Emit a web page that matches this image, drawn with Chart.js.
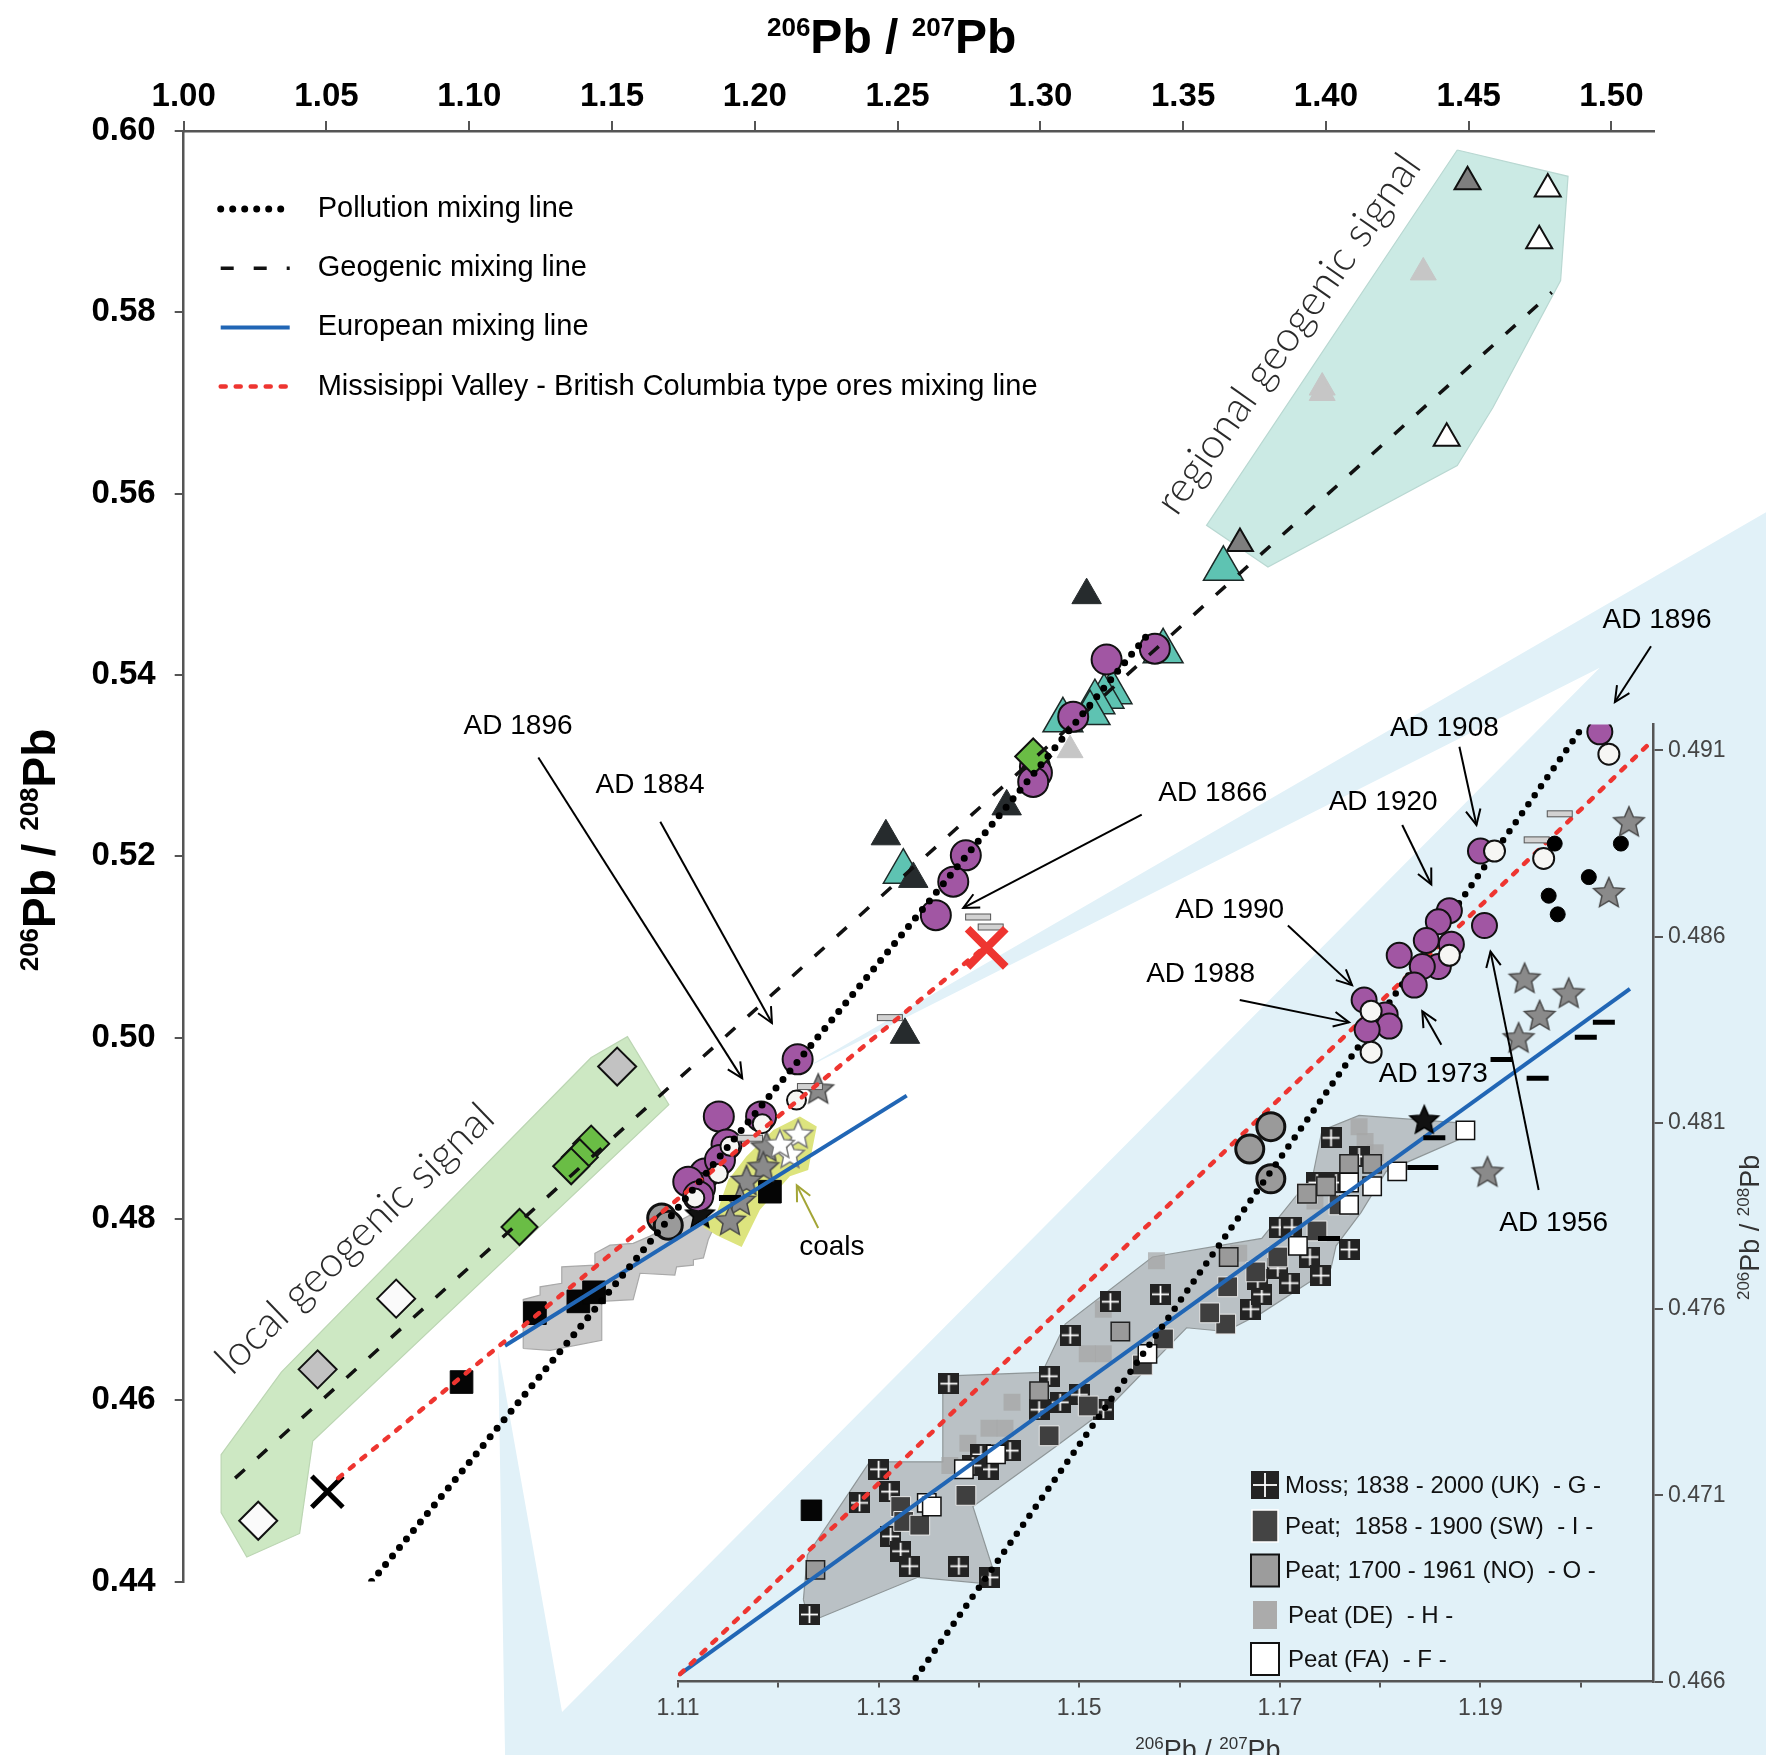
<!DOCTYPE html>
<html>
<head>
<meta charset="utf-8">
<title>206Pb/207Pb vs 206Pb/208Pb</title>
<script src="https://cdn.jsdelivr.net/npm/chart.js@4.4.1/dist/chart.umd.min.js"></script>
<style>
  html, body { margin: 0; padding: 0; background: #fff; }
  #wrap { position: relative; width: 1766px; height: 1755px; overflow: hidden; }
  #wrap canvas { position: absolute; left: 0; top: 0; }
</style>
</head>
<body>
<div id="wrap">
  <canvas id="bgChart" width="1766" height="1755"></canvas>
  <canvas id="mainChart" width="1766" height="1755"></canvas>
  <canvas id="insetChart" width="1766" height="1755"></canvas>
</div>
<script>
// ---------- axes ----------
const mainXTicks = [1.00, 1.05, 1.10, 1.15, 1.20, 1.25, 1.30, 1.35, 1.40, 1.45, 1.50];
const mainYTicks = [0.44, 0.46, 0.48, 0.50, 0.52, 0.54, 0.56, 0.58, 0.60];
const insetXTicks = [1.11, 1.12, 1.13, 1.14, 1.15, 1.16, 1.17, 1.18, 1.19, 1.20];
const insetXLabels = ['1.11', '', '1.13', '', '1.15', '', '1.17', '', '1.19', ''];
const insetYTicks = [0.466, 0.471, 0.476, 0.481, 0.486, 0.491];

const xTitle = [['206', true], ['Pb / ', false], ['207', true], ['Pb', false]];
const yTitle = [['206', true], ['Pb / ', false], ['208', true], ['Pb', false]];

// ---------- mixing lines ----------
const pollutionLine = [[1.0658, 0.4400], [1.3390, 0.5450]];
const geogenicLine = [[1.0180, 0.4514], [1.4791, 0.5822]];
const europeanLine = [[1.1125, 0.4660], [1.2532, 0.4936]];
const mvbcLine = [[1.0541, 0.4514], [1.2809, 0.5101]];
const insetPollutionLine = [[1.1337, 0.4661], [1.2001, 0.4916]];
const insetEuropeanLine = [[1.1102, 0.4662], [1.2049, 0.4846]];
const insetMvbcLine = [[1.1102, 0.4662], [1.2069, 0.4912]];
const lineLegend = ['Pollution mixing line', 'Geogenic mixing line', 'European mixing line',
  'Missisippi Valley - British Columbia type ores mixing line'];

// ---------- shaded areas ----------
const localGeogenicArea = [[1.1427, 0.4978], [1.1554, 0.5001], [1.1699, 0.4926], [1.0452, 0.4555], [1.0406, 0.4453],
  [1.0221, 0.4427], [1.0131, 0.4476], [1.0131, 0.4540], [1.0342, 0.4631]];
const regionalGeogenicArea = [[1.4460, 0.5979], [1.4848, 0.5950], [1.4822, 0.5835], [1.4585, 0.5695], [1.4460, 0.5631],
  [1.3797, 0.5519], [1.3582, 0.5565]];
const mainMossArea = [[1.1189, 0.4657], [1.1189, 0.4711], [1.1248, 0.4716], [1.1248, 0.4725], [1.1324, 0.4729],
  [1.1324, 0.4747], [1.1440, 0.4749], [1.1440, 0.4762], [1.1493, 0.4771], [1.1574, 0.4773], [1.1633, 0.4781],
  [1.1773, 0.4804], [1.1860, 0.4793], [1.1837, 0.4777], [1.1820, 0.4757], [1.1785, 0.4755], [1.1785, 0.4749],
  [1.1726, 0.4747], [1.1720, 0.4738], [1.1598, 0.4740], [1.1574, 0.4711], [1.1464, 0.4709], [1.1464, 0.4666],
  [1.1283, 0.4655]];
const coalsArea = [[1.2158, 0.4913], [1.2217, 0.4902], [1.2187, 0.4854], [1.2123, 0.4847], [1.2018, 0.4810],
  [1.1954, 0.4769], [1.1866, 0.4782], [1.1819, 0.4791], [1.1866, 0.4806], [1.1907, 0.4843], [1.1971, 0.4869],
  [1.2065, 0.4898]];
const insetMossArea = [[1.1225, 0.4682], [1.1231, 0.4676], [1.1339, 0.4688], [1.1419, 0.4686], [1.1394, 0.4707],
  [1.1476, 0.4723], [1.1531, 0.4734], [1.1607, 0.4755], [1.1646, 0.4754], [1.1682, 0.4759], [1.1751, 0.4771],
  [1.1756, 0.4777], [1.1781, 0.4786], [1.1806, 0.4797], [1.1891, 0.4807], [1.1879, 0.4810], [1.1779, 0.4812],
  [1.1742, 0.4808], [1.1733, 0.4796], [1.1682, 0.4779], [1.1573, 0.4774], [1.1486, 0.4756], [1.1463, 0.4743],
  [1.1364, 0.4742], [1.1364, 0.4719], [1.1291, 0.4719], [1.1229, 0.4694]];
// light blue zoom call-out, in main-plot units
const calloutArea = [[1.2158, 0.4963], [1.5560, 0.5583], [1.5560, 0.4180], [1.1127, 0.4180], [1.1101, 0.4655],
  [1.1325, 0.4256], [1.4959, 0.5408]];

// ---------- main plot samples ----------
const purpleMain = [[1.2150, 0.4976], [1.1874, 0.4913], [1.2022, 0.4913], [1.1901, 0.4882], [1.1825, 0.4850],
  [1.1808, 0.4834], [1.1767, 0.4841], [1.1878, 0.4865], [1.1802, 0.4825], [1.3401, 0.5429], [1.3232, 0.5417],
  [1.3115, 0.5354], [1.2981, 0.5299], [1.2988, 0.5292], [1.2975, 0.5282], [1.2739, 0.5201], [1.2695, 0.5172],
  [1.2634, 0.5135]];
const whiteCircleMain = [[1.2146, 0.4931], [1.2026, 0.4905], [1.1913, 0.4880], [1.1872, 0.4850], [1.1790, 0.4823]];
const greyCircleMain = [[1.1674, 0.4801], [1.1697, 0.4793]];
const tealTriMain = [[1.3641, 0.5517], [1.3430, 0.5426], [1.3251, 0.5381], [1.3223, 0.5376], [1.3191, 0.5370],
  [1.3174, 0.5358], [1.3079, 0.5350], [1.2520, 0.5183]];
const darkTriMain = [[1.3162, 0.5488], [1.2882, 0.5255], [1.2459, 0.5222], [1.2555, 0.5175], [1.2526, 0.5003]];
const greyTriMain = [[1.4496, 0.5944], [1.3699, 0.5545]];
const paleTriMain = [[1.4341, 0.5844], [1.3987, 0.5717], [1.3987, 0.5711], [1.3104, 0.5317]];
const whiteTriMain = [[1.4777, 0.5936], [1.4747, 0.5879], [1.4423, 0.5661]];
const greenDiamond = [[1.2975, 0.5310], [1.1427, 0.4883], [1.1387, 0.4868], [1.1357, 0.4858], [1.1176, 0.4791]];
const greyDiamond = [[1.1518, 0.4968], [1.0469, 0.4634]];
const whiteDiamond = [[1.0744, 0.4712], [1.0261, 0.4467]];
const blackSquareMain = [[1.0973, 0.4620], [1.1230, 0.4696], [1.1382, 0.4709], [1.1437, 0.4719], [1.2053, 0.4830]];
const greyStarMain = [[1.2222, 0.4944], [1.2041, 0.4880], [1.2030, 0.4858], [1.1971, 0.4843], [1.1948, 0.4821],
  [1.1913, 0.4799]];
const whiteStarMain = [[1.2152, 0.4894], [1.2123, 0.4872], [1.2088, 0.4883]];
const blackStarMain = [[1.1808, 0.4806]];
const greyBarMain = [[1.2782, 0.5133], [1.2826, 0.5122], [1.2473, 0.5022], [1.2193, 0.4946], [1.1983, 0.4889]];
const blackBarMain = [[1.1913, 0.4823]];
const blackCross = [[1.0503, 0.4499]];
const redCross = [[1.2812, 0.5099]];

// ---------- inset samples ----------
const purpleInset = [[1.2019, 0.4915], [1.1900, 0.4883], [1.1869, 0.4867], [1.1858, 0.4864], [1.1846, 0.4859],
  [1.1871, 0.4858], [1.1819, 0.4855], [1.1858, 0.4852], [1.1842, 0.4852], [1.1834, 0.4847], [1.1904, 0.4863],
  [1.1784, 0.4843], [1.1805, 0.4839], [1.1809, 0.4836], [1.1787, 0.4835]];
const whiteCircleInset = [[1.2028, 0.4909], [1.1914, 0.4883], [1.1963, 0.4881], [1.1869, 0.4855], [1.1791, 0.4840],
  [1.1791, 0.4829]];
const blackDotInset = [[1.1974, 0.4885], [1.2040, 0.4885], [1.2008, 0.4876], [1.1968, 0.4871], [1.1977, 0.4866]];
const greyCircleInset = [[1.1691, 0.4809], [1.1670, 0.4803], [1.1691, 0.4795]];
const greyStarInset = [[1.2048, 0.4891], [1.2028, 0.4872], [1.1944, 0.4849], [1.1988, 0.4845], [1.1959, 0.4839],
  [1.1938, 0.4833], [1.1907, 0.4797]];
const blackStarInset = [[1.1844, 0.4811]];
const greyBarInset = [[1.1979, 0.4893], [1.1956, 0.4886]];
const blackBarInset = [[1.2023, 0.4837], [1.2005, 0.4833], [1.1921, 0.4827], [1.1957, 0.4822], [1.1854, 0.4806],
  [1.1838, 0.4798], [1.1847, 0.4798], [1.1749, 0.4779]];
const blackSquareInset = [[1.1233, 0.4706]];
const mossUK = [[1.1231, 0.4678], [1.1281, 0.4708], [1.1300, 0.4717], [1.1311, 0.4711], [1.1312, 0.4699],
  [1.1322, 0.4695], [1.1331, 0.4691], [1.1380, 0.4691], [1.1411, 0.4688], [1.1370, 0.4740], [1.1402, 0.4721],
  [1.1431, 0.4722], [1.1410, 0.4717], [1.1394, 0.4718], [1.1460, 0.4733], [1.1470, 0.4742], [1.1481, 0.4735],
  [1.1500, 0.4737], [1.1491, 0.4753], [1.1531, 0.4762], [1.1581, 0.4764], [1.1524, 0.4733], [1.1671, 0.4760],
  [1.1682, 0.4764], [1.1698, 0.4771], [1.1710, 0.4767], [1.1730, 0.4774], [1.1741, 0.4769], [1.1769, 0.4776],
  [1.1700, 0.4782], [1.1712, 0.4782], [1.1737, 0.4794], [1.1756, 0.4794], [1.1751, 0.4806], [1.1779, 0.4801],
  [1.1678, 0.4768]];
const peatSW = [[1.1322, 0.4707], [1.1325, 0.4703], [1.1341, 0.4702], [1.1387, 0.4710], [1.1470, 0.4726],
  [1.1509, 0.4734], [1.1584, 0.4752], [1.1646, 0.4756], [1.1648, 0.4766], [1.1676, 0.4770], [1.1698, 0.4774],
  [1.1737, 0.4781], [1.1727, 0.4791], [1.1759, 0.4788], [1.1630, 0.4759], [1.1563, 0.4745]];
const peatNO = [[1.1237, 0.4690], [1.1460, 0.4738], [1.1541, 0.4754], [1.1649, 0.4774], [1.1746, 0.4793],
  [1.1769, 0.4799], [1.1792, 0.4799], [1.1727, 0.4791]];
const peatDE = [[1.1389, 0.4724], [1.1410, 0.4728], [1.1426, 0.4728], [1.1433, 0.4735], [1.1508, 0.4748],
  [1.1524, 0.4748], [1.1577, 0.4773], [1.1659, 0.4775], [1.1735, 0.4789], [1.1779, 0.4809], [1.1785, 0.4805],
  [1.1795, 0.4802], [1.1371, 0.4718], [1.1524, 0.4760]];
const peatFA = [[1.1348, 0.4708], [1.1353, 0.4707], [1.1385, 0.4717], [1.1417, 0.4721], [1.1568, 0.4748],
  [1.1718, 0.4777], [1.1769, 0.4794], [1.1769, 0.4788], [1.1792, 0.4793], [1.1817, 0.4797], [1.1885, 0.4808]];
const squareLegend = ['Moss; 1838 - 2000 (UK)  - G -', 'Peat;  1858 - 1900 (SW)  - I -',
  'Peat; 1700 - 1961 (NO)  - O -', 'Peat (DE)  - H -', 'Peat (FA)  - F -'];

// ---------- annotations ----------
const mainNotes = [
  { text: 'AD 1896', at: [1.1171, 0.5343], from: [1.1242, 0.5309], to: [1.1956, 0.4955] },
  { text: 'AD 1884', at: [1.1633, 0.5278], from: [1.1669, 0.5238], to: [1.2060, 0.5016] },
  { text: 'AD 1866', at: [1.3604, 0.5270], from: [1.3355, 0.5246], to: [1.2730, 0.5143] },
  { text: 'coals', at: [1.2270, 0.4769], from: [1.2222, 0.4790], to: [1.2147, 0.4837], color: '#a3a536' },
];
const insetNotes = [
  { text: 'AD 1896', at: [1.2076, 0.4945], from: [1.2070, 0.4938], to: [1.2034, 0.4923] },
  { text: 'AD 1908', at: [1.1864, 0.4916], from: [1.1879, 0.4911], to: [1.1896, 0.4890] },
  { text: 'AD 1920', at: [1.1803, 0.4896], from: [1.1822, 0.4890], to: [1.1851, 0.4874] },
  { text: 'AD 1990', at: [1.1650, 0.4867], from: [1.1708, 0.4863], to: [1.1772, 0.4847] },
  { text: 'AD 1988', at: [1.1621, 0.4850], from: [1.1660, 0.4843], to: [1.1769, 0.4837] },
  { text: 'AD 1973', at: [1.1853, 0.4823], from: [1.1861, 0.4831], to: [1.1842, 0.4840] },
  { text: 'AD 1956', at: [1.1973, 0.4783], from: [1.1958, 0.4792], to: [1.1910, 0.4856] },
];
const signalLabels = [
  { text: 'local geogenic signal', at: [1.0600, 0.4778], angle: -44 },
  { text: 'regional geogenic signal', at: [1.3869, 0.5776], angle: -55 },
];

// ---------- styles ----------
const FONT = "'Liberation Sans', Arial, Helvetica, sans-serif";
const W = 1766, H = 1755;
const POLLUTION = { color: '#000', width: 7, dash: [0, 11], cap: 'round' };
const GEOGENIC = { color: '#111', width: 3.5, dash: [13, 17], cap: 'butt' };
const EUROPEAN = { color: '#2166b5', width: 4, dash: [], cap: 'butt' };
const MVBC = { color: '#ee3530', width: 4.5, dash: [5, 10], cap: 'round' };
const PURPLE = '#a156a3';

Chart.defaults.font.family = FONT;

const xy = arr => arr.map(([x, y]) => ({ x, y }));

function lineSet(data, st, order) {
  return { data: xy(data), showLine: true, borderColor: st.color, borderWidth: st.width, borderDash: st.dash,
    borderCapStyle: st.cap, pointRadius: 0, fill: false, tension: 0, order };
}
function areaSet(data, fillColor, edgeColor, order) {
  return { data: xy(data.concat([data[0]])), showLine: true, fill: 'shape', backgroundColor: fillColor,
    borderColor: edgeColor, borderWidth: edgeColor ? 1.2 : 0, pointRadius: 0, tension: 0, order };
}
function markSet(data, style, radius, bg, border, bw, order) {
  return { data: xy(data), pointStyle: style, pointRadius: radius, backgroundColor: bg,
    borderColor: border, borderWidth: bw, order };
}

function starImage(fill, edge, R) {
  const s = Math.ceil(2 * R + 4), c = document.createElement('canvas');
  c.width = s; c.height = s;
  const g = c.getContext('2d');
  g.translate(s / 2, s / 2 + R * 0.1);
  g.beginPath();
  for (let i = 0; i < 10; i++) {
    const r = i % 2 ? R * 0.46 : R, a = -Math.PI / 2 + i * Math.PI / 5;
    g.lineTo(r * Math.cos(a), r * Math.sin(a));
  }
  g.closePath();
  g.fillStyle = fill; g.fill();
  g.lineWidth = 1.5; g.strokeStyle = edge; g.stroke();
  return c;
}
function mossImage(size) {
  const c = document.createElement('canvas');
  c.width = size; c.height = size;
  drawMoss(c.getContext('2d'), size / 2, size / 2, size);
  return c;
}
function drawMoss(g, cx, cy, s) {
  g.fillStyle = '#232323';
  g.fillRect(cx - s / 2, cy - s / 2, s, s);
  g.fillStyle = '#fff';
  g.fillRect(cx - 0.9, cy - s / 2 + 2, 1.8, s - 4);
  g.fillRect(cx - s / 2 + 2, cy - 0.9, s - 4, 1.8);
}
function barImage(w, h, fill, edge) {
  const c = document.createElement('canvas');
  c.width = w + 2; c.height = h + 2;
  const g = c.getContext('2d');
  g.fillStyle = fill; g.fillRect(1, 1, w, h);
  g.strokeStyle = edge; g.lineWidth = 1; g.strokeRect(1.5, 1.5, w - 1, h - 1);
  return c;
}

const greyStarImg = starImage('#8a8a8a', '#4a4a4a', 16);
const whiteStarImg = starImage('#ffffff', '#777', 15);
const blackStarImg = starImage('#111', '#000', 15);
const mossImg = mossImage(21);
const greyBarImg = barImage(26, 7, '#d2d2d2', '#555');

function drawRich(ctx, segs, x, y, size, supSize, weight, color) {
  ctx.fillStyle = color;
  ctx.textBaseline = 'alphabetic';
  ctx.textAlign = 'left';
  const widths = segs.map(([t, sup]) => {
    ctx.font = `${weight} ${sup ? supSize : size}px ${FONT}`;
    return ctx.measureText(t).width;
  });
  let cx = x - widths.reduce((a, b) => a + b, 0) / 2;
  segs.forEach(([t, sup], i) => {
    ctx.font = `${weight} ${sup ? supSize : size}px ${FONT}`;
    ctx.fillText(t, cx, sup ? y - size * 0.36 : y);
    cx += widths[i];
  });
}
function drawArrow(ctx, x1, y1, x2, y2, color) {
  ctx.save();
  ctx.strokeStyle = color; ctx.lineWidth = 2; ctx.setLineDash([]);
  ctx.beginPath(); ctx.moveTo(x1, y1); ctx.lineTo(x2, y2); ctx.stroke();
  const a = Math.atan2(y2 - y1, x2 - x1), L = 17, h = 0.45;
  ctx.beginPath();
  ctx.moveTo(x2 - L * Math.cos(a - h), y2 - L * Math.sin(a - h));
  ctx.lineTo(x2, y2);
  ctx.lineTo(x2 - L * Math.cos(a + h), y2 - L * Math.sin(a + h));
  ctx.stroke();
  ctx.restore();
}
function drawNotes(chart, notes) {
  const { ctx, scales: { x, y } } = chart;
  notes.forEach(n => {
    drawArrow(ctx, x.getPixelForValue(n.from[0]), y.getPixelForValue(n.from[1]),
      x.getPixelForValue(n.to[0]), y.getPixelForValue(n.to[1]), n.color || '#000');
    ctx.font = `28px ${FONT}`;
    ctx.fillStyle = '#000';
    ctx.textAlign = 'center';
    ctx.textBaseline = 'middle';
    ctx.fillText(n.text, x.getPixelForValue(n.at[0]), y.getPixelForValue(n.at[1]));
  });
}

const mainDecor = {
  id: 'mainDecor',
  afterDraw(chart) {
    const { ctx, chartArea: a, scales: { x, y } } = chart;
    ctx.save();
    drawRich(ctx, xTitle, a.left + 708, a.top - 78, 48, 26, 'bold', '#000');
    ctx.save();
    ctx.translate(a.left - 129, a.top + 719);
    ctx.rotate(-Math.PI / 2);
    drawRich(ctx, yTitle, 0, 0, 46, 26, 'bold', '#000');
    ctx.restore();

    // line legend
    [POLLUTION, GEOGENIC, EUROPEAN, MVBC].forEach((st, i) => {
      const ly = a.top + 78 + i * 59.2;
      ctx.save();
      ctx.strokeStyle = st.color; ctx.lineWidth = st.width; ctx.lineCap = st.cap;
      ctx.setLineDash(i === 0 ? [0, 12] : i === 1 ? [13, 20] : st.dash);
      ctx.beginPath(); ctx.moveTo(a.left + 37, ly); ctx.lineTo(a.left + 106, ly); ctx.stroke();
      ctx.restore();
      ctx.font = `29px ${FONT}`;
      ctx.fillStyle = '#000'; ctx.textAlign = 'left'; ctx.textBaseline = 'middle';
      ctx.fillText(lineLegend[i], a.left + 134, ly);
    });

    drawNotes(chart, mainNotes);

    signalLabels.forEach(s => {
      ctx.save();
      ctx.translate(x.getPixelForValue(s.at[0]), y.getPixelForValue(s.at[1]));
      ctx.rotate(s.angle * Math.PI / 180);
      ctx.font = `300 42px Lato, ${FONT}`;
      ctx.fillStyle = '#2a2a2a'; ctx.textAlign = 'center'; ctx.textBaseline = 'middle';
      ctx.fillText(s.text, 0, 0);
      ctx.restore();
    });
    ctx.restore();
  }
};

const insetDecor = {
  id: 'insetDecor',
  afterDraw(chart) {
    const { ctx, chartArea: a } = chart;
    ctx.save();
    drawNotes(chart, insetNotes);
    drawRich(ctx, xTitle, a.left + 530, a.bottom + 77, 27, 17, 'normal', '#333');
    ctx.save();
    ctx.translate(a.right + 106, a.top + 503);
    ctx.rotate(-Math.PI / 2);
    drawRich(ctx, yTitle, 0, 0, 27, 17, 'normal', '#333');
    ctx.restore();

    // sample legend
    const cx = a.left + 587;
    const rows = [196.6, 155.6, 111.1, 66.6, 22.6].map(d => a.bottom - d);
    drawMoss(ctx, cx, rows[0], 28);
    ctx.fillStyle = '#444'; ctx.fillRect(cx - 13, rows[1] - 16, 26, 32);
    ctx.strokeStyle = '#fff'; ctx.lineWidth = 1.5; ctx.strokeRect(cx - 13, rows[1] - 16, 26, 32);
    ctx.fillStyle = '#9c9c9c'; ctx.fillRect(cx - 14, rows[2] - 16, 28, 32);
    ctx.strokeStyle = '#111'; ctx.lineWidth = 2; ctx.strokeRect(cx - 14, rows[2] - 16, 28, 32);
    ctx.fillStyle = '#ababab'; ctx.fillRect(cx - 12, rows[3] - 14, 24, 28);
    ctx.fillStyle = '#fff'; ctx.fillRect(cx - 14, rows[4] - 16, 28, 32);
    ctx.strokeStyle = '#111'; ctx.lineWidth = 2; ctx.strokeRect(cx - 14, rows[4] - 16, 28, 32);
    ctx.font = `24px ${FONT}`;
    ctx.fillStyle = '#111'; ctx.textAlign = 'left'; ctx.textBaseline = 'middle';
    squareLegend.forEach((t, i) => ctx.fillText(t, cx + 20 + (i > 2 ? 3 : 0), rows[i] + 1));
    ctx.restore();
  }
};

const baseOptions = {
  responsive: false,
  animation: false,
  devicePixelRatio: 1,
  events: [],
  plugins: { legend: { display: false }, tooltip: { enabled: false } },
};

// ---------- main plot ----------
const mainChart = new Chart(document.getElementById('mainChart'), {
  type: 'scatter',
  data: {
    datasets: [
      lineSet(pollutionLine, POLLUTION, 1),
      lineSet(mvbcLine, MVBC, 2),
      lineSet(europeanLine, EUROPEAN, 3),
      lineSet(geogenicLine, GEOGENIC, 4),
      markSet(redCross, 'crossRot', 27, '#ee3530', '#ee3530', 8, 10),
      markSet(blackCross, 'crossRot', 22, '#000', '#000', 5, 10),
      markSet(greyBarMain, greyBarImg, 13, '#ccc', '#555', 1, 11),
      markSet(blackBarMain, 'line', 11, '#000', '#000', 6, 11),
      markSet(whiteCircleMain, 'circle', 9.5, '#f6f6f4', '#111', 2, 12),
      markSet(greenDiamond, 'rectRot', 18, '#6abd45', '#111', 2, 12.5),
      markSet(purpleMain, 'circle', 15, PURPLE, '#111', 2, 13),
      markSet(whiteStarMain, whiteStarImg, 15, '#fff', '#777', 1, 14),
      markSet(blackStarMain, blackStarImg, 15, '#111', '#000', 1, 14),
      markSet(greyStarMain, greyStarImg, 16, '#8a8a8a', '#4a4a4a', 1, 15),
      markSet(greyCircleMain, 'circle', 14, '#9a9a9a', '#111', 3, 16),
      markSet(blackSquareMain, 'rect', 16, '#050505', '#050505', 1, 17),
      markSet(greyDiamond, 'rectRot', 19, '#c2c2c2', '#111', 2, 18),
      markSet(whiteDiamond, 'rectRot', 19, '#fafafa', '#111', 2, 18),
      markSet(darkTriMain, 'triangle', 17, '#262b2d', '#262b2d', 1, 19),
      markSet(tealTriMain, 'triangle', 23, '#5ec3b2', '#1d2a28', 1.5, 20),
      markSet(greyTriMain, 'triangle', 15, '#7e7e7e', '#111', 2, 21),
      markSet(paleTriMain, 'triangle', 15, '#c6c6c6', '#c6c6c6', 1, 21),
      markSet(whiteTriMain, 'triangle', 15, '#ffffff', '#111', 2, 21),
      areaSet(coalsArea, '#dde47e', null, 90),
      areaSet(mainMossArea, '#c9c9c9', '#a9a9a9', 91),
      areaSet(localGeogenicArea, '#cde8c3', '#bcd6b3', 92),
      areaSet(regionalGeogenicArea, '#cbeae4', '#b9d8d2', 92),
    ]
  },
  options: {
    ...baseOptions,
    layout: { padding: { left: 63.7, top: 71, right: 112, bottom: 173.5 } },
    scales: {
      x: {
        type: 'linear', position: 'top', bounds: 'data', min: 1.0, max: 1.5149,
        afterBuildTicks: s => { s.ticks = mainXTicks.map(v => ({ value: v })); },
        afterFit: s => { s.height = 60; },
        grid: { drawOnChartArea: false, drawTicks: true, tickLength: 10, color: '#555', lineWidth: 2 },
        border: { display: true, color: '#555', width: 2.5 },
        ticks: { autoSkip: false, maxRotation: 0, padding: 4, color: '#000',
          font: { size: 33, weight: 'bold' }, callback: v => v.toFixed(2) },
      },
      y: {
        type: 'linear', position: 'left', bounds: 'data', min: 0.44, max: 0.60,
        afterBuildTicks: s => { s.ticks = mainYTicks.map(v => ({ value: v })); },
        afterFit: s => { s.width = 120; },
        grid: { drawOnChartArea: false, drawTicks: true, tickLength: 9, color: '#555', lineWidth: 2 },
        border: { display: true, color: '#555', width: 2.5 },
        ticks: { autoSkip: false, padding: 19, color: '#000',
          font: { size: 33, weight: 'bold' }, callback: v => v.toFixed(2) },
      },
    },
  },
  plugins: [mainDecor],
});

// ---------- light blue call-out behind everything ----------
const mx = mainChart.scales.x, my = mainChart.scales.y;
new Chart(document.getElementById('bgChart'), {
  type: 'scatter',
  data: { datasets: [areaSet(calloutArea, '#e1f1f8', null, 1)] },
  options: {
    ...baseOptions,
    layout: { padding: 0 },
    scales: {
      x: { display: false, bounds: 'data', min: mx.getValueForPixel(0), max: mx.getValueForPixel(W) },
      y: { display: false, bounds: 'data', min: my.getValueForPixel(H), max: my.getValueForPixel(0) },
    },
  },
});

// ---------- inset ----------
new Chart(document.getElementById('insetChart'), {
  type: 'scatter',
  data: {
    datasets: [
      markSet(greyStarInset, greyStarImg, 16, '#8a8a8a', '#4a4a4a', 1, 1),
      markSet(blackStarInset, blackStarImg, 15, '#111', '#000', 1, 1),
      markSet(blackDotInset, 'circle', 7.5, '#000', '#000', 1, 2),
      markSet(whiteCircleInset, 'circle', 10.5, '#f6f6f4', '#111', 2, 3),
      markSet(purpleInset, 'circle', 12.5, PURPLE, '#111', 2, 4),
      markSet(greyBarInset, greyBarImg, 13, '#ccc', '#555', 1, 5),
      markSet(blackBarInset, 'line', 11, '#000', '#000', 5, 5),
      lineSet(insetPollutionLine, { ...POLLUTION, width: 6.5 }, 6),
      markSet(greyCircleInset, 'circle', 14, '#9a9a9a', '#111', 3, 7),
      lineSet(insetMvbcLine, MVBC, 8),
      lineSet(insetEuropeanLine, EUROPEAN, 9),
      markSet(peatFA, 'rect', 13, '#ffffff', '#111', 1.5, 10),
      markSet(peatNO, 'rect', 13, '#9a9a9a', '#222', 1.5, 11),
      markSet(peatSW, 'rect', 14, '#3f3f3f', '#e8e8e8', 1, 12),
      markSet(mossUK, mossImg, 11, '#222', '#222', 1, 13),
      markSet(blackSquareInset, 'rect', 14.5, '#050505', '#050505', 1, 14),
      markSet(peatDE, 'rect', 12, 'rgba(165,165,165,0.7)', 'rgba(0,0,0,0)', 0, 15),
      areaSet(insetMossArea, 'rgba(150,150,150,0.52)', '#8f9698', 90),
    ]
  },
  options: {
    ...baseOptions,
    layout: { padding: { left: 678, top: 724.4, right: 0, bottom: 0 } },
    scales: {
      x: {
        type: 'linear', position: 'bottom', bounds: 'data', min: 1.11, max: 1.2072,
        afterBuildTicks: s => { s.ticks = insetXTicks.map(v => ({ value: v })); },
        afterFit: s => { s.height = 73.4; },
        grid: { drawOnChartArea: false, drawTicks: true, tickLength: 6, color: '#555', lineWidth: 2 },
        border: { display: true, color: '#555', width: 2.5 },
        ticks: { autoSkip: false, maxRotation: 0, padding: 7, color: '#444',
          font: { size: 23 }, callback: (v, i) => insetXLabels[i] },
      },
      y: {
        type: 'linear', position: 'right', bounds: 'data', min: 0.466, max: 0.4917,
        afterBuildTicks: s => { s.ticks = insetYTicks.map(v => ({ value: v })); },
        afterFit: s => { s.width = 113; },
        grid: { drawOnChartArea: false, drawTicks: true, tickLength: 10, color: '#555', lineWidth: 2 },
        border: { display: true, color: '#555', width: 2.5 },
        ticks: { autoSkip: false, padding: 5, color: '#444',
          font: { size: 23 }, callback: v => v.toFixed(3) },
      },
    },
  },
  plugins: [insetDecor],
});
</script>
</body>
</html>
